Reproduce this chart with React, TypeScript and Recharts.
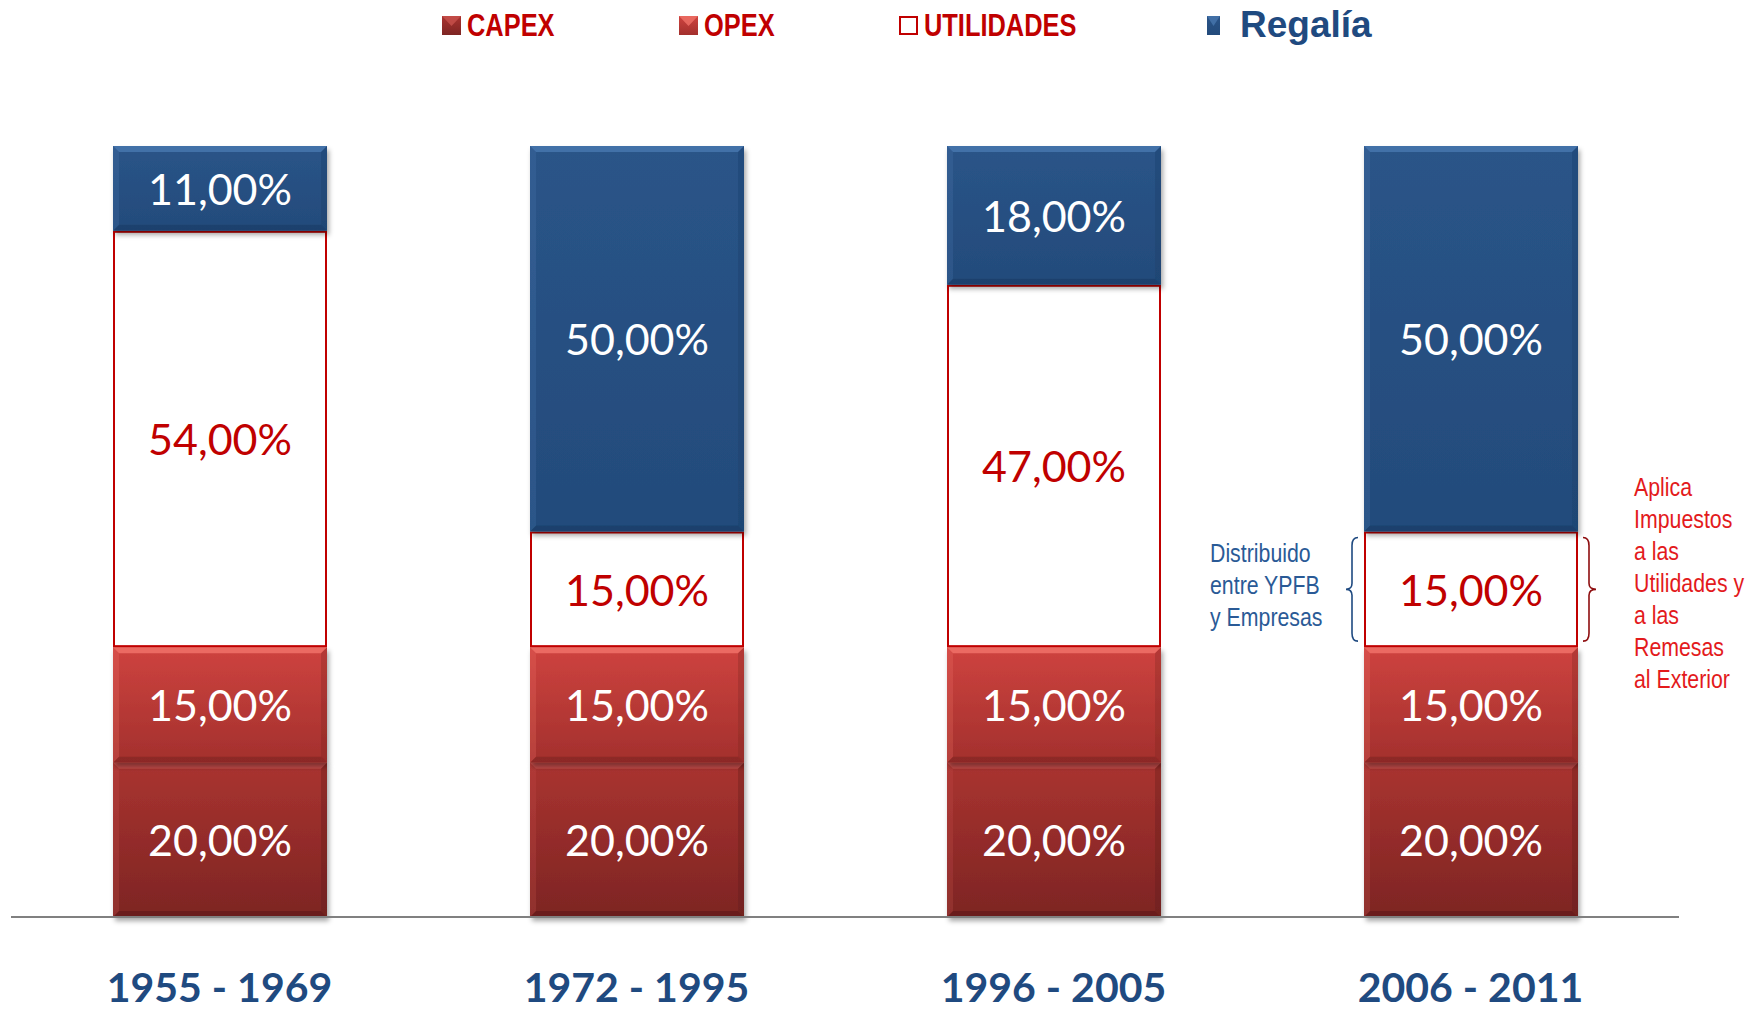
import { BarChart, Bar, XAxis, YAxis, LabelList } from "recharts";

const periods = ["1955 - 1969", "1972 - 1995", "1996 - 2005", "2006 - 2011"];
const capex = [20, 20, 20, 20];
const opex = [15, 15, 15, 15];
const utilidades = [54, 15, 47, 15];
const regalia = [11, 50, 18, 50];

const legendNames = ["CAPEX", "OPEX", "UTILIDADES", "Regalía"];
const leftNote = ["Distribuido", "entre YPFB", "y Empresas"];
const rightNote = ["Aplica", "Impuestos", "a las", "Utilidades y", "a las", "Remesas", "al Exterior"];
const noteIndex = 3;

const data = periods.map((p, i) => ({
  period: p,
  capex: capex[i],
  opex: opex[i],
  utilidades: utilidades[i],
  regalia: regalia[i],
}));

const W = 1757;
const H = 1011;
const RED = "#C00000";
const BLUE = "#1F4A80";
const SANS = "'Liberation Sans', Arial, sans-serif";
const VALUE_FONT = "Lato, 'Open Sans', sans-serif";

const palette: Record<string, { top: string; bottom: string; light: string; dark: string }> = {
  capex: { top: "#AA3330", bottom: "#7D2523", light: "#C8514C", dark: "#5A1918" },
  opex: { top: "#CE433F", bottom: "#A3302D", light: "#F07268", dark: "#7A2321" },
  regalia: { top: "#2A5488", bottom: "#234B7B", light: "#4777AE", dark: "#183A62" },
};

// narrow text: Arial Narrow is not installed, so squeeze Liberation Sans
function Narrow(props: any) {
  const { x, y, children, size, fill, weight, sx } = props;
  return (
    <text
      transform={`translate(${x},${y}) scale(${sx ?? 0.82},1)`}
      dominantBaseline="central"
      fill={fill}
      fontFamily={SANS}
      fontWeight={weight ?? 400}
      fontSize={size}
    >
      {children}
    </text>
  );
}

function Bevel(props: any) {
  const { x, y, width, height, kind } = props;
  if (!height || height <= 0) return null;
  const c = palette[kind];
  const b = 6;
  const r = x + width;
  const btm = y + height;
  return (
    <g filter="url(#barShadow)">
      <rect x={x} y={y} width={width} height={height} fill={`url(#grad-${kind})`} />
      <polygon points={`${x},${y} ${r},${y} ${r - b},${y + b} ${x + b},${y + b}`} fill={c.light} opacity={0.85} />
      <polygon points={`${x},${btm} ${r},${btm} ${r - b},${btm - b} ${x + b},${btm - b}`} fill={c.dark} opacity={0.55} />
      <polygon points={`${x},${y} ${x + b},${y + b} ${x + b},${btm - b} ${x},${btm}`} fill={c.light} opacity={0.25} />
      <polygon points={`${r},${y} ${r - b},${y + b} ${r - b},${btm - b} ${r},${btm}`} fill={c.dark} opacity={0.3} />
    </g>
  );
}

function WhiteBox(props: any) {
  const { x, y, width, height } = props;
  if (!height || height <= 0) return null;
  return (
    <rect x={x + 1} y={y + 1} width={width - 2} height={height - 2} fill="#FFFFFF" stroke={RED} strokeWidth={2} />
  );
}

function valueText(v: number) {
  return v.toFixed(2).replace(".", ",") + "%";
}

function makeLabel(color: string) {
  return (props: any) => {
    const { x, y, width, height, value } = props;
    return (
      <text
        x={x + width / 2}
        y={y + height / 2}
        textAnchor="middle"
        dominantBaseline="central"
        fill={color}
        fontFamily={VALUE_FONT}
        fontSize={43}
      >
        {valueText(value)}
      </text>
    );
  };
}

function UtilLabel(props: any) {
  const { x, y, width, height, index } = props;
  const cy = y + height / 2;
  const base = makeLabel(RED)(props);
  if (index !== noteIndex) return base;
  const top = y + 6;
  const bot = y + height - 6;
  const lx = x - 6;
  const rx = x + width + 5;
  return (
    <g>
      {base}
      <path
        d={`M ${lx} ${top} Q ${lx - 6} ${top} ${lx - 6} ${top + 8} L ${lx - 6} ${cy - 6} Q ${lx - 6} ${cy} ${lx - 12} ${cy} Q ${lx - 6} ${cy} ${lx - 6} ${cy + 6} L ${lx - 6} ${bot - 8} Q ${lx - 6} ${bot} ${lx} ${bot}`}
        fill="none"
        stroke={BLUE}
        strokeWidth={1.6}
      />
      <path
        d={`M ${rx} ${top} Q ${rx + 6} ${top} ${rx + 6} ${top + 8} L ${rx + 6} ${cy - 6} Q ${rx + 6} ${cy} ${rx + 13} ${cy} Q ${rx + 6} ${cy} ${rx + 6} ${cy + 6} L ${rx + 6} ${bot - 8} Q ${rx + 6} ${bot} ${rx} ${bot}`}
        fill="none"
        stroke="#8E0E10"
        strokeWidth={1.6}
      />
      {leftNote.map((t, i) => (
        <Narrow key={"l" + i} x={x - 154} y={cy - 5 + (i - 1) * 32} fill="#2A5A96" size={26}>
          {t}
        </Narrow>
      ))}
      {rightNote.map((t, i) => (
        <Narrow key={"r" + i} x={x + width + 56} y={cy - 7 + (i - 3) * 32} fill="#E31A1C" size={26}>
          {t}
        </Narrow>
      ))}
    </g>
  );
}

function PeriodTick(props: any) {
  const { x, y, payload } = props;
  return (
    <text
      x={x}
      y={y + 69}
      textAnchor="middle"
      dominantBaseline="central"
      fill={BLUE}
      fontFamily={VALUE_FONT}
      fontWeight={700}
      fontSize={41}
    >
      {payload.value}
    </text>
  );
}

const legendX = [442, 679, 899, 1207];

function TopLegend() {
  return (
    <svg width={W} height={60} style={{ position: "absolute", left: 0, top: 0 }}>
      {legendNames.map((name, i) => {
        const mx = legendX[i];
        const isReg = i === 3;
        const mw = isReg ? 13 : 19;
        const kind = i === 0 ? "capex" : i === 1 ? "opex" : "regalia";
        return (
          <g key={name}>
            {i === 2 ? (
              <rect x={mx + 1} y={17} width={mw - 2} height={17} fill="#FFFFFF" stroke={RED} strokeWidth={2} />
            ) : (
              <g>
                <rect x={mx} y={16} width={mw} height={19} fill={`url(#grad-${kind})`} />
                <polygon
                  points={`${mx},${16} ${mx + mw},${16} ${mx + mw / 2},${26}`}
                  fill={palette[kind].light}
                  opacity={0.8}
                />
              </g>
            )}
            {isReg ? (
              <text x={1240} y={24} dominantBaseline="central" fill={BLUE} fontFamily={SANS} fontWeight={700} fontSize={37}>
                {name}
              </text>
            ) : (
              <Narrow x={mx + mw + 6} y={25} fill={RED} weight={700} size={31}>
                {name}
              </Narrow>
            )}
          </g>
        );
      })}
    </svg>
  );
}

export default function App() {
  return (
    <div style={{ position: "absolute", left: 0, top: 0, width: W, height: H, background: "#FFFFFF" }}>
      <svg width={0} height={0} style={{ position: "absolute" }}>
        <defs>
          {Object.keys(palette).map((k) => (
            <linearGradient key={k} id={`grad-${k}`} x1="0" y1="0" x2="0" y2="1">
              <stop offset="0%" stopColor={palette[k].top} />
              <stop offset="100%" stopColor={palette[k].bottom} />
            </linearGradient>
          ))}
          <filter id="barShadow" x="-10%" y="-10%" width="125%" height="130%">
            <feDropShadow dx="2" dy="4" stdDeviation="2.5" floodColor="#000000" floodOpacity="0.35" />
          </filter>
        </defs>
      </svg>
      <BarChart
        width={W}
        height={H}
        data={data}
        margin={{ top: 146, right: 78, left: 11, bottom: 0 }}
        barSize={214}
      >
        <YAxis hide domain={[0, 100]} />
        <XAxis
          dataKey="period"
          height={94}
          axisLine={{ stroke: "#808080", strokeWidth: 2 }}
          tickLine={false}
          tickSize={0}
          tickMargin={0}
          interval={0}
          tick={<PeriodTick />}
        />
        <Bar dataKey="capex" stackId="a" isAnimationActive={false} shape={(p: any) => <Bevel {...p} kind="capex" />}>
          <LabelList dataKey="capex" content={makeLabel("#FFFFFF")} />
        </Bar>
        <Bar dataKey="opex" stackId="a" isAnimationActive={false} shape={(p: any) => <Bevel {...p} kind="opex" />}>
          <LabelList dataKey="opex" content={makeLabel("#FFFFFF")} />
        </Bar>
        <Bar dataKey="utilidades" stackId="a" isAnimationActive={false} shape={(p: any) => <WhiteBox {...p} />}>
          <LabelList dataKey="utilidades" content={(p: any) => <UtilLabel {...p} />} />
        </Bar>
        <Bar dataKey="regalia" stackId="a" isAnimationActive={false} shape={(p: any) => <Bevel {...p} kind="regalia" />}>
          <LabelList dataKey="regalia" content={makeLabel("#FFFFFF")} />
        </Bar>
      </BarChart>
      <TopLegend />
    </div>
  );
}
